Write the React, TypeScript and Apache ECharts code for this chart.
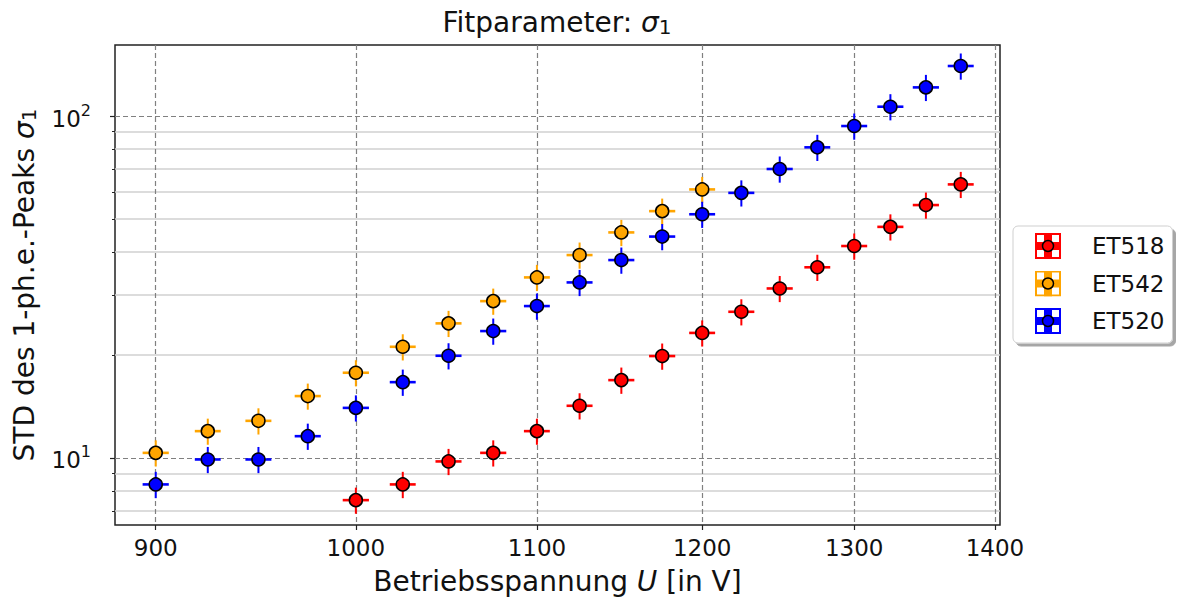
import React, { useEffect, useRef } from "react";
import * as echarts from "echarts";

// Operating voltage steps [V] and the uncertainty on each setting [V]
const voltageSteps = [900, 925, 950, 975, 1000, 1025, 1050, 1075, 1100, 1125, 1150, 1175, 1200, 1225, 1250, 1275, 1300, 1325, 1350, 1375];
const voltageErr = [6.2, 6.3, 6.5, 6.7, 6.9, 7.0, 7.2, 7.4, 7.5, 7.7, 7.9, 8.1, 8.2, 8.4, 8.6, 8.7, 8.9, 9.1, 9.3, 9.4];

// ET518
const voltagesET518 = [1000, 1025, 1050, 1075, 1100, 1125, 1150, 1175, 1200, 1225, 1250, 1275, 1300, 1325, 1350, 1375];
const sigmaET518 = [7.52, 8.36, 9.76, 10.34, 11.97, 14.2, 16.88, 19.85, 23.2, 26.75, 31.3, 36.1, 41.66, 47.4, 54.9, 63.1];
const sigmaErrET518 = [0.66, 0.74, 0.86, 0.91, 1.05, 1.25, 1.49, 1.75, 2.04, 2.35, 2.75, 3.18, 3.67, 4.17, 4.83, 5.55];

// ET542
const voltagesET542 = [900, 925, 950, 975, 1000, 1025, 1050, 1075, 1100, 1125, 1150, 1175, 1200];
const sigmaET542 = [10.34, 11.97, 12.83, 15.16, 17.74, 21.13, 24.74, 28.74, 33.72, 39.2, 45.66, 52.7, 61.0];
const sigmaErrET542 = [0.91, 1.05, 1.13, 1.33, 1.56, 1.86, 2.18, 2.53, 2.97, 3.45, 4.02, 4.64, 5.37];

// ET520
const voltagesET520 = [900, 925, 950, 975, 1000, 1025, 1050, 1075, 1100, 1125, 1150, 1175, 1200, 1225, 1250, 1275, 1300, 1325, 1350, 1375];
const sigmaET520 = [8.36, 9.89, 9.89, 11.57, 14.0, 16.65, 19.89, 23.49, 27.8, 32.6, 37.9, 44.4, 51.6, 59.6, 70.0, 81.0, 93.5, 106.5, 121.3, 140.1];
const sigmaErrET520 = [0.74, 0.87, 0.87, 1.02, 1.23, 1.47, 1.75, 2.07, 2.45, 2.87, 3.34, 3.91, 4.54, 5.24, 6.16, 7.13, 8.23, 9.37, 10.67, 12.33];

// Axis ticks
const xTicks = [900, 1000, 1100, 1200, 1300, 1400];
const yMajorTicks = [10, 100];
const yMinorTicks = [7, 8, 9, 20, 30, 40, 50, 60, 70, 80, 90];

const FONT = "DejaVu Sans";
const INK = "#111";

type SeriesDef = { name: string; color: string; u: number[]; s: number[]; sErr: number[] };

const seriesDefs: SeriesDef[] = [
  { name: "ET518", color: "#ff0000", u: voltagesET518, s: sigmaET518, sErr: sigmaErrET518 },
  { name: "ET542", color: "#ffa500", u: voltagesET542, s: sigmaET542, sErr: sigmaErrET542 },
  { name: "ET520", color: "#0000ff", u: voltagesET520, s: sigmaET520, sErr: sigmaErrET520 },
];

const uErrOf = (u: number) => voltageErr[voltageSteps.indexOf(u)];

// Legend handle: errorbar cross with marker inside a coloured frame
function legendIcon(color: string): string {
  const svg =
    `<svg xmlns='http://www.w3.org/2000/svg' width='52' height='26' viewBox='0 0 52 26'>` +
    `<rect x='1' y='1' width='24' height='24' fill='#fff' stroke='${color}' stroke-width='2'/>` +
    `<rect x='0' y='9' width='26' height='8' fill='${color}'/>` +
    `<rect x='9' y='0' width='8' height='26' fill='${color}'/>` +
    `<circle cx='13' cy='13' r='5.5' fill='${color}' stroke='#000' stroke-width='1.5'/>` +
    `</svg>`;
  return "image://data:image/svg+xml;charset=utf-8," + encodeURIComponent(svg);
}

function buildOption(): any {
  const series: any[] = [];
  seriesDefs.forEach((d) => {
    series.push({
      type: "custom",
      name: d.name,
      xAxisIndex: 0,
      yAxisIndex: 0,
      encode: { x: 0, y: 1 },
      data: d.u.map((u, i) => [u, d.s[i], uErrOf(u), d.sErr[i]]),
      renderItem: (_params: any, api: any) => {
        const x = api.value(0);
        const y = api.value(1);
        const xe = api.value(2);
        const ye = api.value(3);
        const l = api.coord([x - xe, y]);
        const r = api.coord([x + xe, y]);
        const t = api.coord([x, y + ye]);
        const b = api.coord([x, y - ye]);
        return {
          type: "group",
          children: [
            { type: "line", shape: { x1: l[0], y1: l[1], x2: r[0], y2: r[1] }, style: { stroke: d.color, lineWidth: 2.6 } },
            { type: "line", shape: { x1: t[0], y1: t[1], x2: b[0], y2: b[1] }, style: { stroke: d.color, lineWidth: 2 } },
          ],
        };
      },
    });
    series.push({
      type: "scatter",
      name: d.name,
      xAxisIndex: 0,
      yAxisIndex: 0,
      symbol: "circle",
      symbolSize: 13,
      itemStyle: { color: d.color, borderColor: "#000", borderWidth: 1.5, opacity: 1 },
      data: d.u.map((u, i) => [u, d.s[i]]),
    });
  });

  const subRich = {
    i: { fontFamily: FONT, fontSize: 28, fontStyle: "italic", color: INK, lineHeight: 30 },
    s: { fontFamily: FONT, fontSize: 20, color: INK, lineHeight: 20, verticalAlign: "bottom" },
  };

  return {
    animation: false,
    backgroundColor: "#fff",
    title: {
      text: "Fitparameter: {i|σ}{s|1}",
      left: 557,
      top: 7,
      textAlign: "center",
      padding: 0,
      textStyle: { fontFamily: FONT, fontSize: 28, fontWeight: "normal", color: INK, lineHeight: 30, rich: subRich },
    },
    legend: {
      orient: "vertical",
      left: 1013,
      top: 226,
      padding: [7, 8, 9, 22],
      itemGap: 11.5,
      itemWidth: 52,
      itemHeight: 26,
      backgroundColor: "#fff",
      borderColor: "#cfcfcf",
      borderWidth: 1,
      borderRadius: 5,
      shadowColor: "rgba(0,0,0,0.35)",
      shadowOffsetX: 3,
      shadowOffsetY: 3,
      shadowBlur: 0,
      textStyle: { fontFamily: FONT, fontSize: 23, color: INK },
      data: seriesDefs.map((d) => ({ name: d.name, icon: legendIcon(d.color) })),
    },
    grid: {
      left: 115,
      top: 45,
      width: 885,
      height: 480,
      show: true,
      borderColor: "#222",
      borderWidth: 1.5,
      backgroundColor: "#fff",
      containLabel: false,
      outerBoundsMode: "none",
    },
    xAxis: {
      type: "log",
      logBase: 10,
      min: 880.9,
      max: 1403.7,
      name: "Betriebsspannung {i|U} [in V]",
      nameLocation: "middle",
      nameGap: 41,
      nameTextStyle: { fontFamily: FONT, fontSize: 28, color: INK, lineHeight: 30, rich: subRich },
      axisLine: { show: false },
      axisTick: { show: true, inside: false, length: 5, customValues: xTicks, lineStyle: { color: "#222", width: 1.2 } },
      axisLabel: {
        customValues: xTicks,
        margin: 11,
        fontFamily: FONT,
        fontSize: 23,
        color: INK,
        formatter: (v: number) => String(Math.round(v)),
      },
      splitLine: { show: true, lineStyle: { color: "#808080", width: 1.2, type: [5, 3] } },
      minorTick: { show: false },
      minorSplitLine: { show: false },
    },
    yAxis: [
      {
        type: "log",
        logBase: 10,
        min: 6.36,
        max: 161.4,
        position: "left",
        name: "STD des 1-ph.e.-Peaks {i|σ}{s|1}",
        nameLocation: "middle",
        nameGap: 76,
        nameRotate: 90,
        nameTextStyle: { fontFamily: FONT, fontSize: 28, color: INK, lineHeight: 30, rich: subRich },
        axisLine: { show: false },
        axisTick: { show: true, length: 5, customValues: yMajorTicks, lineStyle: { color: "#222", width: 1.2 } },
        axisLabel: {
          customValues: yMajorTicks,
          margin: 24,
          formatter: (v: number) => `{b|10}{e|${Math.round(Math.log10(v))}}`,
          rich: {
            b: { fontFamily: FONT, fontSize: 23, color: INK, lineHeight: 28, verticalAlign: "bottom" },
            e: { fontFamily: FONT, fontSize: 16, color: INK, lineHeight: 16, verticalAlign: "top" },
          },
        },
        splitLine: { show: true, lineStyle: { color: "#808080", width: 1.2, type: [5, 3] } },
        minorTick: { show: false },
        minorSplitLine: { show: false },
      },
      {
        type: "log",
        logBase: 10,
        min: 6.36,
        max: 161.4,
        position: "left",
        offset: 0,
        axisLine: { show: false },
        axisTick: { show: true, length: 3, customValues: yMinorTicks, lineStyle: { color: "#222", width: 1 } },
        axisLabel: { show: false, customValues: yMinorTicks },
        splitLine: { show: true, lineStyle: { color: "#d0d0d0", width: 1.6, type: "solid" } },
        minorTick: { show: false },
        minorSplitLine: { show: false },
      },
    ],
    series,
  };
}

export default function App() {
  const ref = useRef<HTMLDivElement>(null);
  useEffect(() => {
    if (!ref.current) return;
    const chart = echarts.init(ref.current, null, { renderer: "svg" });
    chart.setOption(buildOption());
    return () => chart.dispose();
  }, []);
  return (
    <div
      ref={ref}
      style={{ position: "fixed", left: 0, top: 0, width: 1180, height: 603, background: "#fff" }}
    />
  );
}
